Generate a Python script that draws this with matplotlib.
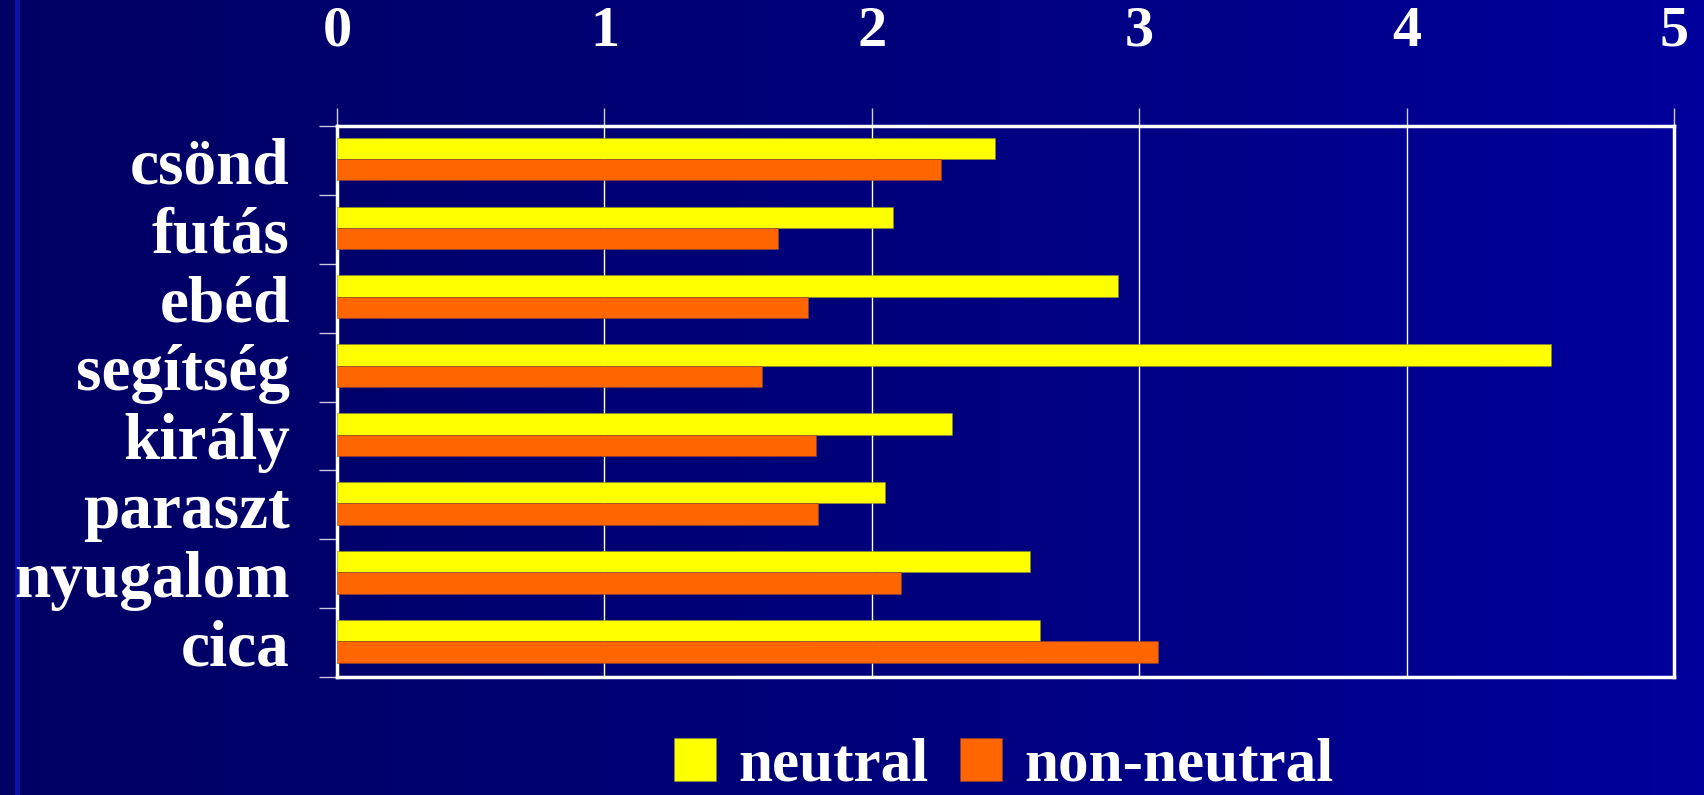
import numpy as np
import matplotlib.pyplot as plt
from matplotlib.colors import LinearSegmentedColormap
from matplotlib.patches import Patch, Rectangle

categories = ['csönd', 'futás', 'ebéd', 'segítség', 'király', 'paraszt', 'nyugalom', 'cica']
neutral = [2.46, 2.08, 2.92, 4.54, 2.30, 2.05, 2.59, 2.63]
non_neutral = [2.26, 1.65, 1.76, 1.59, 1.79, 1.80, 2.11, 3.07]
series_names = ['neutral', 'non-neutral']
xticks = [0, 1, 2, 3, 4, 5]

yellow = '#FFFF00'
orange = '#FF6600'
font = 'Liberation Serif'

fig = plt.figure(figsize=(17.04, 7.95), dpi=100)

# slide background: dark navy on the left fading to brighter blue on the right
bg = fig.add_axes([0, 0, 1, 1], zorder=-10)
cmap = LinearSegmentedColormap.from_list('navy', ['#000064', '#00007A', '#00009C'])
bg.imshow(np.linspace(0, 1, 512).reshape(1, -1), cmap=cmap, aspect='auto',
          extent=[0, 1, 0, 1])
bg.add_patch(Rectangle((0.0088, 0), 0.003, 1, color='#0A14A8', lw=0))
bg.set_xlim(0, 1)
bg.set_ylim(0, 1)
bg.axis('off')

ax = fig.add_axes([0.1978, 0.1484, 0.7846, 0.6931])
ax.patch.set_alpha(0)

y = np.arange(len(categories))
h = 0.31
ax.barh(y - h / 2 - 0.02, neutral, height=h, color=yellow,
        edgecolor='#8a8a30', linewidth=0.4, zorder=3)
ax.barh(y + h / 2 - 0.02, non_neutral, height=h, color=orange,
        edgecolor='#8a4030', linewidth=0.4, zorder=3)

ax.set_xlim(0, 5)
ax.set_ylim(len(categories) - 0.5, -0.5)

# value axis along the top
ax.xaxis.tick_top()
ax.set_xticks(xticks)
ax.set_xticklabels([str(t) for t in xticks], fontfamily=font, fontweight='bold')
ax.tick_params(axis='x', which='major', direction='out', length=13, width=1,
               color='#d0d0e8', pad=36, labelsize=42, labelcolor='white')
ax.grid(axis='x', color='white', linewidth=1, zorder=1)
ax.set_axisbelow(True)

# category labels centred, tick marks at the boundaries
ax.set_yticks(y)
ax.set_yticklabels(categories, fontfamily=font, fontweight='bold')
ax.tick_params(axis='y', which='major', length=0, pad=34, labelsize=47,
               labelcolor='white')
ax.set_yticks(np.arange(-0.5, len(categories), 1), minor=True)
ax.tick_params(axis='y', which='minor', direction='out', length=13, width=1,
               color='#c8c8e0')

for s in ax.spines.values():
    s.set_color('white')
    s.set_linewidth(2.5)

handles = [Patch(facecolor=yellow, edgecolor='#8a8a30', linewidth=0.4),
           Patch(facecolor=orange, edgecolor='#8a4030', linewidth=0.4)]
fig.legend(handles, series_names, loc='center', bbox_to_anchor=(0.589, 0.0365),
           ncol=2, frameon=False, labelcolor='white',
           prop=dict(family=font, weight='bold', size=44),
           handlelength=0.69, handleheight=0.7, handletextpad=0.36,
           columnspacing=0.52, borderpad=0)

fig.savefig('out.png', dpi=100)
